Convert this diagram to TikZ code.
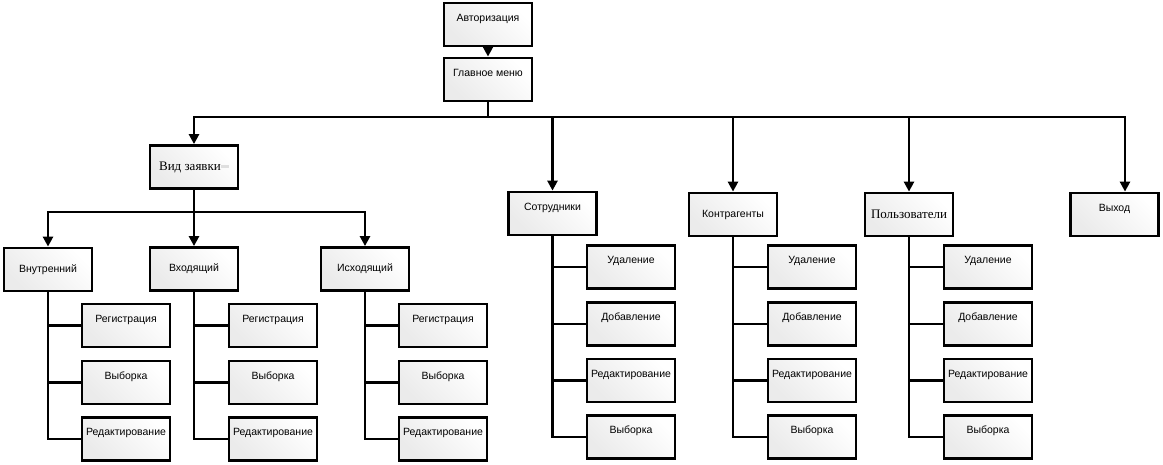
\documentclass[tikz,border=0pt]{standalone}
\usepackage{fontspec}
\setmainfont{Liberation Sans}
\newfontfamily\serifru{Liberation Serif}
\usetikzlibrary{arrows.meta}
\tikzset{
  box/.style={draw, line width=2.8pt, minimum width=88pt, minimum height=43pt, inner sep=2pt,
    top color=white, bottom color=gray!16, shading angle=-45,
    font=\fontsize{10.5}{12}\selectfont},
  raised/.style={text height=4pt, text depth=11pt},
  serifbox/.style={font=\serifru\fontsize{13}{15}\selectfont},
  conn/.style={line width=2.6pt},
  arr/.style={conn, -{Triangle[width=10pt,length=10pt]}}
}
\begin{document}
\begin{tikzpicture}[x=1pt, y=-1pt]
\useasboundingbox (0,0) rectangle (1163,464);
% top
\node[box, raised] (auth) at (488,24.5) {Авторизация};
\node[box, raised] (menu) at (488,79.5) {Главное меню};
\draw[arr] (auth) -- (menu);
% second level
\node[box, serifbox] (vz) at (194,167) {Вид заявки\textcolor{gray!25}{\rule[2.5pt]{8pt}{3pt}}};
\node[box, raised] (sotr) at (552.5,213.5) {Сотрудники};
\node[box] (kontr) at (733,214.5) {Контрагенты};
\node[box, serifbox] (polz) at (909,214.5) {Пользователи};
\node[box, raised] (exit) at (1114.5,214.5) {Выход};
\coordinate (mbus) at (488,117);
\draw[conn] (menu.south) -- (mbus);
\draw[arr] (mbus) -| (vz.north);
\draw[arr] (mbus) -| (sotr.north);
\draw[arr] (mbus) -| (kontr.north);
\draw[arr] (mbus) -| (polz.north);
\draw[arr] (mbus) -| ([xshift=10.5pt]exit.north);
% Вид заявки subtree
\node[box] (vn) at (48,269.5) {Внутренний};
\node[box] (vh) at (194,269) {Входящий};
\node[box] (ish) at (365,269) {Исходящий};
\coordinate (vbus) at (194,212);
\draw[conn] (vz.south) -- (vbus);
\draw[arr] (vbus) -| (vn.north);
\draw[arr] (vbus) -- (vh.north);
\draw[arr] (vbus) -| (ish.north);
% children of Внутренний / Входящий / Исходящий
\foreach \p/\cx in {vn/126, vh/273, ish/443} {
  \node[box, raised] (\p1) at (\cx,325.5) {Регистрация};
  \node[box, raised] (\p2) at (\cx,382.5) {Выборка};
  \node[box, raised] (\p3) at (\cx,439) {Редактирование};
  \draw[conn] (\p.south) |- (\p1.west);
  \draw[conn] (\p.south) |- (\p2.west);
  \draw[conn] (\p.south) |- (\p3.west);
}
% children of Сотрудники / Контрагенты / Пользователи
\foreach \p/\cx in {sotr/631, kontr/812, polz/988} {
  \node[box, raised] (\p1) at (\cx,267) {Удаление};
  \node[box, raised] (\p2) at (\cx,324) {Добавление};
  \node[box, raised] (\p3) at (\cx,380.5) {Редактирование};
  \node[box, raised] (\p4) at (\cx,437) {Выборка};
  \draw[conn] (\p.south) |- (\p1.west);
  \draw[conn] (\p.south) |- (\p2.west);
  \draw[conn] (\p.south) |- (\p3.west);
  \draw[conn] (\p.south) |- (\p4.west);
}
\end{tikzpicture}
\end{document}
